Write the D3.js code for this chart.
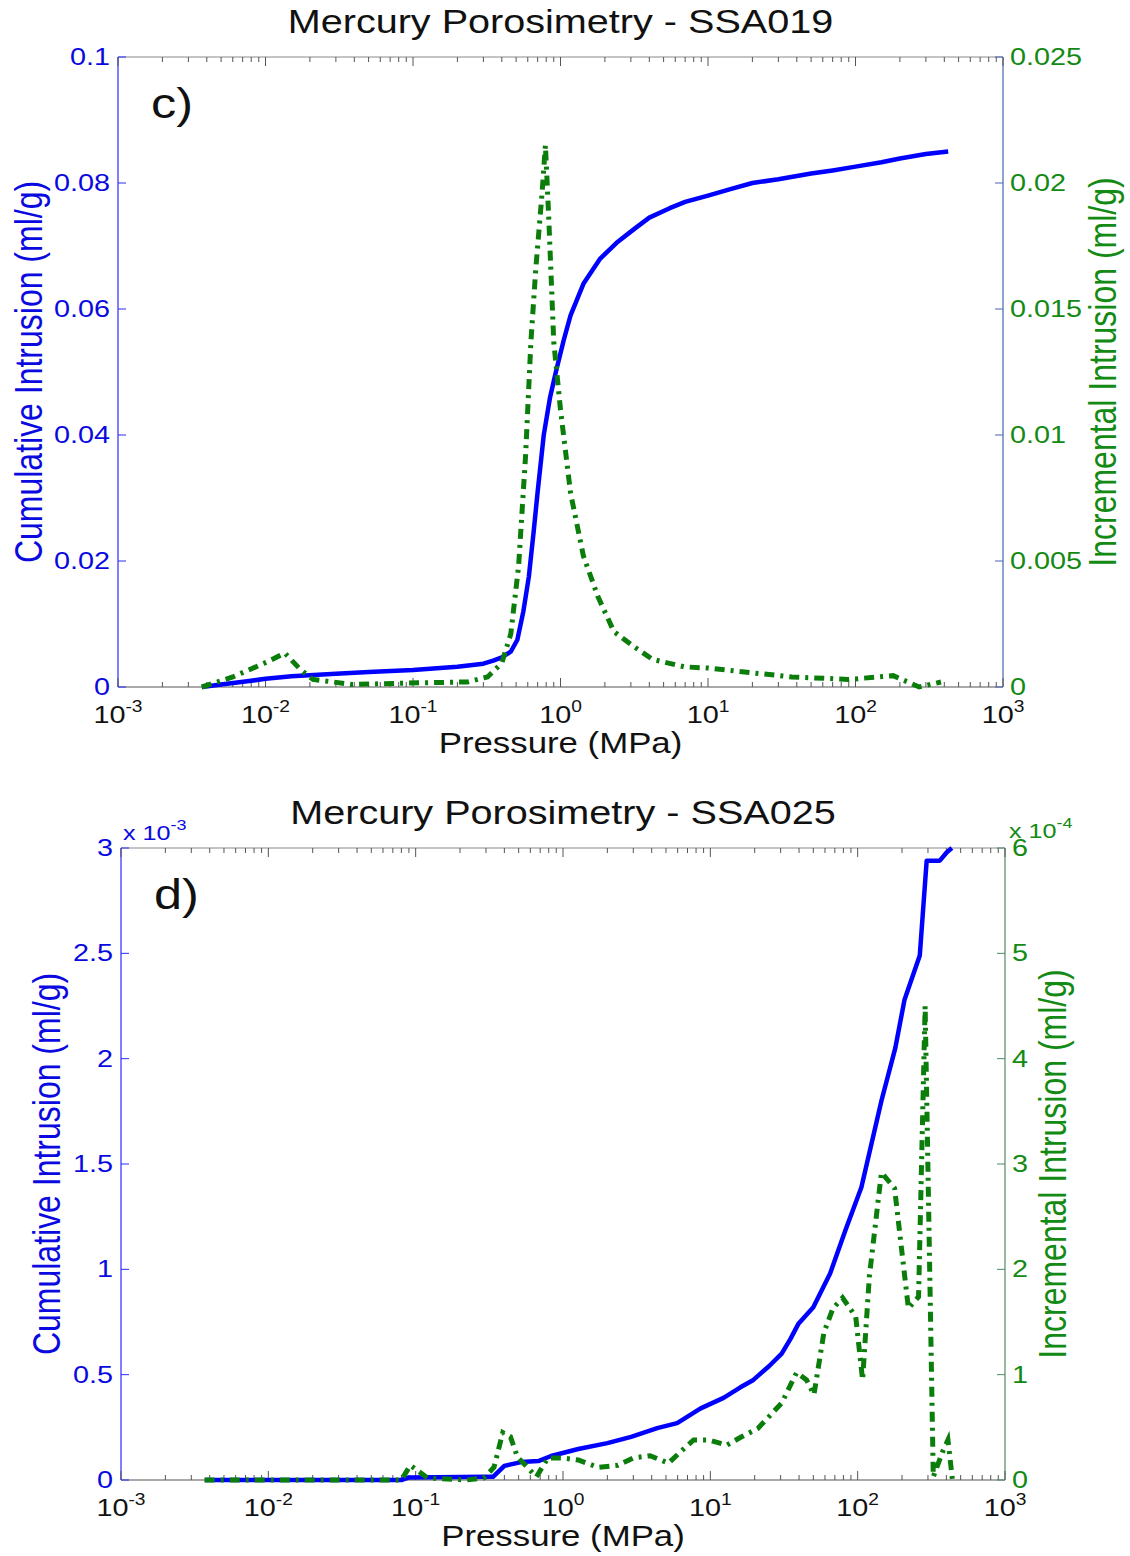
<!DOCTYPE html>
<html lang="en">
<head>
<meta charset="UTF-8">
<script src="https://cdn.jsdelivr.net/npm/d3@7"></script>
<title>Mercury Porosimetry</title>
<style>
  body { margin: 0; background: #fff; }
  text { font-family: "Liberation Sans", Arial, Helvetica, sans-serif; }
</style>
</head>
<body>
<svg width="1130" height="1556"></svg>
<script>
// ---- data ----
// panel c) SSA019
var pressC_cum = [0.0037, 0.005, 0.0075, 0.01, 0.015, 0.03, 0.05, 0.1, 0.2, 0.3, 0.35, 0.40, 0.46, 0.51, 0.56, 0.61, 0.66, 0.70, 0.77, 0.85, 0.93, 1.05, 1.17, 1.43, 1.86, 2.4, 3.2, 4.0, 5.5, 7, 10, 14, 20, 30, 50, 70, 100, 150, 200, 300, 425];
var cumC = [0, 0.0004, 0.0009, 0.0013, 0.0017, 0.0021, 0.0024, 0.0027, 0.0032, 0.0037, 0.0042, 0.0047, 0.0056, 0.0075, 0.012, 0.0175, 0.025, 0.031, 0.040, 0.046, 0.050, 0.055, 0.059, 0.064, 0.068, 0.0705, 0.0728, 0.0745, 0.0760, 0.0770, 0.0780, 0.0790, 0.0800, 0.0806, 0.0815, 0.0820, 0.0826, 0.0833, 0.0839, 0.0846, 0.085];
var pressC_inc = [0.0037, 0.006, 0.0103, 0.0135, 0.0172, 0.021, 0.039, 0.082, 0.234, 0.32, 0.40, 0.46, 0.52, 0.58, 0.63, 0.68, 0.75, 0.79, 0.83, 0.90, 1.0, 1.17, 1.43, 1.79, 2.3, 3.15, 4.2, 6.9, 10.1, 21, 37, 90, 180, 270, 380];
var incC = [0, 0.0004, 0.001, 0.00135, 0.0007, 0.0003, 0.0001, 0.00015, 0.0002, 0.0004, 0.00095, 0.0021, 0.0048, 0.0092, 0.0137, 0.0166, 0.0196, 0.0215, 0.0188, 0.0137, 0.0110, 0.0077, 0.0052, 0.0036, 0.0022, 0.0016, 0.0011, 0.0008, 0.00075, 0.00055, 0.0004, 0.0003, 0.00045, 0, 0.0002];

// panel d) SSA025 (cumulative in 1e-3 ml/g, incremental in 1e-4 ml/g)
var pressD_cum = [0.0037, 0.08, 0.09, 0.30, 0.335, 0.40, 0.52, 0.68, 0.83, 1.27, 2.0, 2.9, 4.36, 5.95, 8.6, 12.3, 16, 19.6, 25, 30.5, 35, 39.5, 50, 65, 82, 106, 145, 180, 208, 264, 294, 361, 403, 436];
var cumD = [0, 0, 0.012, 0.015, 0.015, 0.067, 0.085, 0.09, 0.114, 0.147, 0.175, 0.205, 0.246, 0.27, 0.34, 0.39, 0.44, 0.475, 0.54, 0.60, 0.67, 0.74, 0.82, 0.98, 1.18, 1.39, 1.80, 2.05, 2.28, 2.49, 2.94, 2.94, 2.98, 3.0];
var pressD_inc = [0.0037, 0.08, 0.092, 0.12, 0.22, 0.29, 0.34, 0.39, 0.44, 0.49, 0.66, 0.79, 0.97, 1.27, 1.73, 2.36, 3.0, 3.9, 5.2, 6.3, 7.7, 9.8, 12.9, 16.3, 21, 30.5, 38.5, 45, 50.5, 59, 68, 79, 97, 108, 120, 145, 178, 221, 259, 287, 326, 380, 410, 440];
var incD = [0, 0, 0.14, 0.02, 0, 0.02, 0.12, 0.45, 0.41, 0.22, 0.03, 0.21, 0.21, 0.19, 0.12, 0.14, 0.21, 0.23, 0.16, 0.27, 0.38, 0.38, 0.33, 0.41, 0.49, 0.73, 1.02, 0.95, 0.81, 1.40, 1.63, 1.73, 1.55, 0.95, 1.93, 2.92, 2.77, 1.63, 1.74, 4.5, 0.03, 0.28, 0.38, 0];

// ticks
var xExponents = [-3, -2, -1, 0, 1, 2, 3];
var ticksC_left = [0, 0.02, 0.04, 0.06, 0.08, 0.1];
var labelsC_left = ["0", "0.02", "0.04", "0.06", "0.08", "0.1"];
var ticksC_right = [0, 0.005, 0.01, 0.015, 0.02, 0.025];
var labelsC_right = ["0", "0.005", "0.01", "0.015", "0.02", "0.025"];
var ticksD_left = [0, 0.5, 1, 1.5, 2, 2.5, 3];
var labelsD_left = ["0", "0.5", "1", "1.5", "2", "2.5", "3"];
var ticksD_right = [0, 1, 2, 3, 4, 5, 6];
var labelsD_right = ["0", "1", "2", "3", "4", "5", "6"];

var SX = 1.2; // the figure is slightly stretched sideways
var BLUE = "#0000ff", BLUE_TXT = "#0a0ae0", GREEN = "#0b7d0b", GREEN_TXT = "#138a13";

var svg = d3.select("svg");
svg.append("rect").attr("width", 1130).attr("height", 1556).attr("fill", "#fff");

function txt(g, x, y, s, size, color, anchor, rot) {
    var tr = "translate(" + x + "," + y + ") scale(" + SX + ",1)" + (rot ? " rotate(" + rot + ")" : "");
    return g.append("text")
        .attr("transform", tr)
        .attr("font-size", size)
        .attr("fill", color)
        .attr("text-anchor", anchor || "start")
        .text(s);
}

function drawPanel(p) {
    var g = svg.append("g");
    var x = d3.scaleLog().domain([1e-3, 1e3]).range([p.left, p.right]);
    var yL = d3.scaleLinear().domain(p.leftDomain).range([p.bottom, p.top]);
    var yR = d3.scaleLinear().domain(p.rightDomain).range([p.bottom, p.top]);

    // box lines
    g.append("line").attr("x1", p.left).attr("x2", p.right).attr("y1", p.top).attr("y2", p.top)
        .attr("stroke", "#8a8a8a").attr("stroke-width", 1.2);
    g.append("line").attr("x1", p.left).attr("x2", p.right).attr("y1", p.bottom).attr("y2", p.bottom)
        .attr("stroke", "#555").attr("stroke-width", 1.2);
    g.append("line").attr("x1", p.left).attr("x2", p.left).attr("y1", p.top).attr("y2", p.bottom)
        .attr("stroke", "#2a2aff").attr("stroke-width", 1.2);
    g.append("line").attr("x1", p.right).attr("x2", p.right).attr("y1", p.top).attr("y2", p.bottom)
        .attr("stroke", p.rightAxisColor).attr("stroke-width", 1.2);

    // log x ticks, inward on top and bottom
    var minor = [];
    for (var e = -3; e < 3; e++) for (var m = 2; m <= 9; m++) minor.push(m * Math.pow(10, e));
    var major = xExponents.map(function(k) { return Math.pow(10, k); });
    [[p.bottom, -1], [p.top, 1]].forEach(function(side) {
        g.selectAll(null).data(minor).enter().append("line")
            .attr("x1", function(d) { return x(d); }).attr("x2", function(d) { return x(d); })
            .attr("y1", side[0]).attr("y2", side[0] + side[1] * 5)
            .attr("stroke", "#555").attr("stroke-width", 1);
        g.selectAll(null).data(major).enter().append("line")
            .attr("x1", function(d) { return x(d); }).attr("x2", function(d) { return x(d); })
            .attr("y1", side[0]).attr("y2", side[0] + side[1] * 9)
            .attr("stroke", "#555").attr("stroke-width", 1);
    });

    // x tick labels 10^k
    xExponents.forEach(function(k) {
        var t = txt(g, x(Math.pow(10, k)), p.bottom + 36, "10", 24, "#111", "middle");
        t.append("tspan").attr("dy", -11).attr("font-size", 16).text(k);
    });
    txt(g, (p.left + p.right) / 2, p.bottom + 66, "Pressure (MPa)", 29, "#111", "middle");

    // left y ticks
    p.leftTicks.forEach(function(v, i) {
        g.append("line").attr("x1", p.left).attr("x2", p.left + 8).attr("y1", yL(v)).attr("y2", yL(v))
            .attr("stroke", "#2a2aff").attr("stroke-width", 1);
        txt(g, p.left - 8, yL(v) + 8, p.leftLabels[i], 24, BLUE_TXT, "end");
    });
    // right y ticks
    p.rightTicks.forEach(function(v, i) {
        g.append("line").attr("x1", p.right).attr("x2", p.right - 8).attr("y1", yR(v)).attr("y2", yR(v))
            .attr("stroke", p.rightAxisColor).attr("stroke-width", 1);
        txt(g, p.right + 7, yR(v) + 8, p.rightLabels[i], 24, GREEN_TXT, "start");
    });

    // axis titles
    txt(g, p.leftLabelX, (p.top + p.bottom) / 2, "Cumulative Intrusion (ml/g)", 32, BLUE_TXT, "middle", -90);
    txt(g, p.rightLabelX, (p.top + p.bottom) / 2, "Incremental Intrusion (ml/g)", 32, GREEN_TXT, "middle", -90);
    txt(g, (p.left + p.right) / 2, p.top - 24, p.title, 33, "#111", "middle");
    txt(g, p.left + 33, p.top + 61, p.letter, 42, "#111", "start");

    if (p.leftExp) {
        var a = txt(g, p.left + 2, p.top - 8, "x 10", 21, BLUE_TXT, "start");
        a.append("tspan").attr("dy", -10).attr("font-size", 15).text(p.leftExp);
    }
    if (p.rightExp) {
        var b = txt(g, p.right + 4, p.top - 10, "x 10", 21, GREEN_TXT, "start");
        b.append("tspan").attr("dy", -10).attr("font-size", 15).text(p.rightExp);
    }

    // series
    var lineL = d3.line().x(function(d) { return x(d[0]); }).y(function(d) { return yL(d[1]); });
    var lineR = d3.line().x(function(d) { return x(d[0]); }).y(function(d) { return yR(d[1]); });
    g.append("path").datum(d3.zip(p.cumP, p.cum))
        .attr("d", lineL).attr("fill", "none").attr("stroke", BLUE)
        .attr("stroke-width", 4.5).attr("stroke-linejoin", "round");
    g.append("path").datum(d3.zip(p.incP, p.inc))
        .attr("d", lineR).attr("fill", "none").attr("stroke", GREEN)
        .attr("stroke-width", 5).attr("stroke-dasharray", "10,6,3,6");
}

drawPanel({
    left: 118, right: 1003, top: 57, bottom: 687,
    leftDomain: [0, 0.1], rightDomain: [0, 0.025],
    leftTicks: ticksC_left, leftLabels: labelsC_left,
    rightTicks: ticksC_right, rightLabels: labelsC_right,
    rightAxisColor: "#4a66b0",
    leftLabelX: 42, rightLabelX: 1116,
    title: "Mercury Porosimetry - SSA019", letter: "c)",
    cumP: pressC_cum, cum: cumC, incP: pressC_inc, inc: incC
});

drawPanel({
    left: 121, right: 1005, top: 848, bottom: 1480,
    leftDomain: [0, 3], rightDomain: [0, 6],
    leftTicks: ticksD_left, leftLabels: labelsD_left,
    rightTicks: ticksD_right, rightLabels: labelsD_right,
    rightAxisColor: "#4f8a66",
    leftLabelX: 60, rightLabelX: 1066,
    title: "Mercury Porosimetry - SSA025", letter: "d)",
    leftExp: "-3", rightExp: "-4",
    cumP: pressD_cum, cum: cumD, incP: pressD_inc, inc: incD
});
</script>
</body>
</html>
